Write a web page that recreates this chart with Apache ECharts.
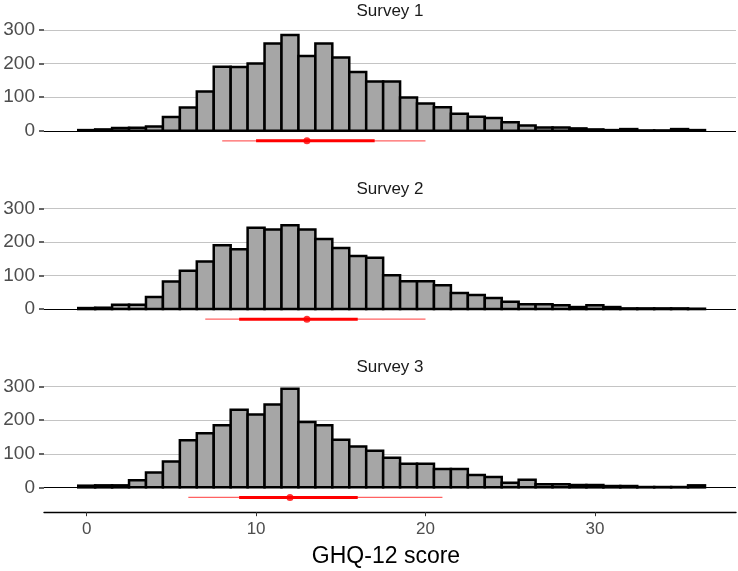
<!DOCTYPE html>
<html>
<head>
<meta charset="utf-8">
<script src="https://cdn.jsdelivr.net/npm/echarts@6/dist/echarts.min.js"></script>
<style>
html,body{margin:0;padding:0;background:#fff;}
#chart{width:738px;height:571px;}
</style>
</head>
<body>
<div id="chart"></div>
<script>
// GHQ-12 score categories (bin centres)
const scores = [0,1,2,3,4,5,6,7,8,9,10,11,12,13,14,15,16,17,18,19,20,21,22,23,24,25,26,27,28,29,30,31,32,33,34,35,36];
const panelTitles = ['Survey 1', 'Survey 2', 'Survey 3'];
const survey1 = [2,4,8,9,13,41,69,117,191,190,200,260,285,223,260,218,175,147,147,99,81,70,51,42,38,25,16,10,10,7,4,2,5,1,1,5,2];
const survey2 = [3,4,13,13,36,82,114,142,190,178,242,237,250,237,209,182,158,153,101,83,83,71,48,42,33,22,14,14,11,6,11,6,2,2,2,2,1];
const survey3 = [5,6,6,21,44,77,140,161,185,231,217,247,294,195,185,142,122,109,88,70,70,55,55,37,31,14,23,9,9,7,7,4,4,1,1,1,6];
// interval summaries per survey: outer range, inner range, median
const outerLow  = [8, 7, 6];
const outerHigh = [20, 20, 21];
const innerLow  = [10, 9, 9];
const innerHigh = [17, 16, 16];
const medians   = [13, 13, 12];
const yTicks = [0, 100, 200, 300];
const xTicks = [0, 10, 20, 30];
const axisTitle = 'GHQ-12 score';

const counts = [survey1, survey2, survey3];
const FONT = '"Liberation Sans", Arial, sans-serif';
const chart = echarts.init(document.getElementById('chart'), null, {renderer: 'canvas'});

const gridLeft = 44, gridWidth = 692, gridTop0 = 22, gridStep = 178.3, gridHeight = 133.6;
const intervalY = -30;

const grids = [], xAxes = [], yAxes = [], series = [], graphics = [];
for (let i = 0; i < 3; i++) {
  const top = gridTop0 + i * gridStep;
  grids.push({left: gridLeft, width: gridWidth, top: top, height: gridHeight, containLabel: false});
  const last = i === 2;
  xAxes.push({
    type: 'value', gridIndex: i, min: -2.52, max: 38.33,
    axisLine: {show: last, onZero: false, lineStyle: {color: '#000', width: 1.4}},
    axisTick: {show: last, length: 4, lineStyle: {color: '#333', width: 1}, customValues: xTicks},
    axisLabel: {show: last, customValues: xTicks, color: '#4d4d4d', fontSize: 17, fontFamily: FONT, margin: 9},
    splitLine: {show: false}
  });
  yAxes.push({
    type: 'value', gridIndex: i, min: -74, max: 324, position: 'left',
    axisLine: {show: false, onZero: false},
    axisTick: {show: true, inside: false, length: 5, lineStyle: {color: '#333333', width: 1.5}, customValues: yTicks},
    axisLabel: {customValues: yTicks, color: '#4d4d4d', fontSize: 19, fontFamily: FONT, margin: 9},
    splitLine: {show: true, lineStyle: {color: '#c4c4c4', width: 1.2}}
  });
  const data = scores.map((s, k) => [s, counts[i][k]]);
  series.push({
    type: 'custom', xAxisIndex: i, yAxisIndex: i, clip: false, z: 3,
    data: data,
    renderItem: function (params, api) {
      const x = api.value(0), y = api.value(1);
      const p0 = api.coord([x - 0.5, y]);
      const p1 = api.coord([x + 0.5, 0]);
      return {
        type: 'rect',
        shape: {x: p0[0], y: p0[1], width: p1[0] - p0[0], height: Math.max(p1[1] - p0[1], 0.01)},
        style: {fill: '#a6a6a6', stroke: '#000', lineWidth: 2.5}
      };
    },
    markLine: {
      silent: true, symbol: 'none', label: {show: false},
      lineStyle: {color: '#000', width: 1.1, type: 'solid'},
      data: [{yAxis: 0}]
    }
  });
  series.push({
    type: 'line', xAxisIndex: i, yAxisIndex: i, symbol: 'none', silent: true, z: 4,
    lineStyle: {color: '#ff3b3b', width: 1.3, opacity: 0.8},
    data: [[outerLow[i], intervalY], [outerHigh[i], intervalY]]
  });
  series.push({
    type: 'line', xAxisIndex: i, yAxisIndex: i, symbol: 'none', silent: true, z: 5,
    lineStyle: {color: '#ff0000', width: 3},
    data: [[innerLow[i], intervalY], [innerHigh[i], intervalY]]
  });
  series.push({
    type: 'scatter', xAxisIndex: i, yAxisIndex: i, silent: true, z: 6,
    symbol: 'circle', symbolSize: 7, itemStyle: {color: '#ff0000'},
    data: [[medians[i], intervalY]]
  });
  graphics.push({
    type: 'text', x: gridLeft + gridWidth / 2, y: top - 11,
    style: {text: panelTitles[i], fill: '#1a1a1a', font: '17px ' + FONT, align: 'center', verticalAlign: 'middle'}
  });
}
graphics.push({
  type: 'text', x: gridLeft + gridWidth / 2 - 4, y: 557,
  style: {text: axisTitle, fill: '#000', font: '23px ' + FONT, align: 'center', verticalAlign: 'middle'}
});

chart.setOption({
  animation: false,
  backgroundColor: '#fff',
  grid: grids, xAxis: xAxes, yAxis: yAxes, series: series, graphic: graphics
});
</script>
</body>
</html>
